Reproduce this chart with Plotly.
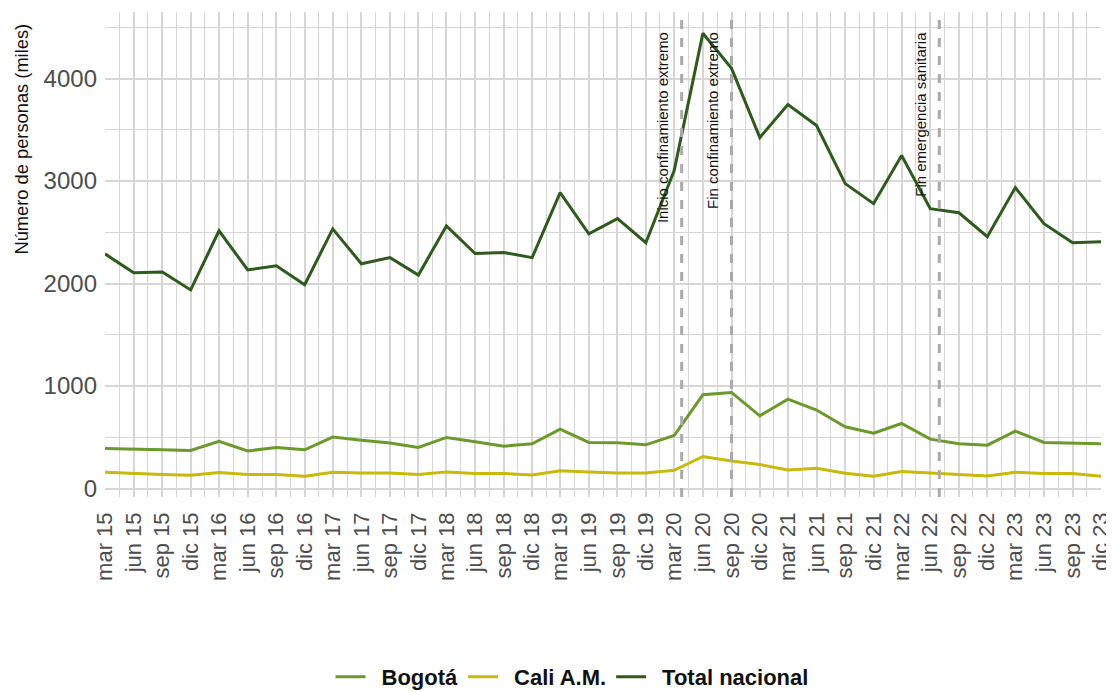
import plotly.graph_objects as go
import pandas as pd

# ---- data ----
dates = pd.date_range("2015-03-01", "2023-12-01", freq="3MS").strftime("%Y-%m-%d").tolist()
tick_labels = [f"{m} {y:02d}" for y in range(15, 24) for m in ["mar", "jun", "sep", "dic"]]

total_nacional = [2290, 2105, 2113, 1938, 2515, 2133, 2173, 1988, 2533, 2193, 2253, 2083,
                  2563, 2293, 2303, 2253, 2887, 2486, 2633, 2398, 3103, 4441, 4099, 3424,
                  3747, 3542, 2975, 2779, 3249, 2730, 2691, 2457, 2936, 2584, 2398, 2408]
bogota = [391, 389, 380, 372, 460, 368, 401, 378, 502, 472, 445, 401,
          499, 456, 414, 437, 580, 450, 446, 427, 518, 915, 938, 710,
          873, 766, 603, 541, 635, 482, 437, 424, 560, 450, 446, 437]
cali = [160, 147, 137, 130, 156, 137, 137, 121, 160, 153, 153, 137,
        163, 147, 147, 133, 173, 163, 153, 153, 178, 313, 270, 235,
        182, 199, 150, 121, 166, 153, 140, 124, 160, 147, 147, 121]

events = ["2020-03-25", "2020-09-01", "2022-06-30"]
event_labels = ["Inicio confinamiento extremo", "Fin confinamiento extremo", "Fin emergencia sanitaria"]

series = [("Bogotá", bogota, "#6B9A2C"), ("Cali A.M.", cali, "#C8B90A"), ("Total nacional", total_nacional, "#2F5A1E")]

# minor gridlines between quarters
d = pd.to_datetime(dates)
mids = [(d[i] + (d[i + 1] - d[i]) / 2).strftime("%Y-%m-%d") for i in range(len(d) - 1)]

regular = "Liberation Sans, Arial, sans-serif"

# page body has an 8px margin: size the figure so it fits the 1114x692 window
W, H = 1106, 684

fig = go.Figure()
for name, vals, color in series:
    fig.add_trace(go.Scatter(x=dates, y=vals, name="\u2002" + name, mode="lines",
                             line=dict(color=color, width=3)))

for ev, lab in zip(events, event_labels):
    fig.add_shape(type="line", xref="x", yref="paper", x0=ev, x1=ev, y0=0, y1=1,
                  line=dict(color="#AAAAAA", width=3, dash="dash"), layer="above")
    fig.add_annotation(x=ev, y=0.963, xref="x", yref="paper", text=lab, textangle=-90,
                       showarrow=False, xanchor="center", yanchor="top", xshift=-19,
                       font=dict(family=regular, size=15, color="#111111"))

# y-axis title placed near the top, as in the reference
fig.add_annotation(xref="x domain", yref="y domain", x=(21 - 105) / 996, y=1 + (12 - 22) / 485,
                   text="Número de personas (miles)", showarrow=False, textangle=-90,
                   xanchor="center", yanchor="top",
                   font=dict(family=regular, size=18.3, color="#111111"))

grid = "#D6D6D6"
fig.update_layout(
    width=W, height=H,
    margin=dict(l=97, r=13, t=4, b=195),
    plot_bgcolor="white", paper_bgcolor="white",
    showlegend=True,
    legend=dict(orientation="h", xref="container", yref="container",
                x=564 / W, xanchor="center", y=1 - 669 / H, yanchor="middle",
                font=dict(family=regular, size=22, color="#111111", weight="bold")),
    xaxis=dict(type="date", range=[dates[0], dates[-1]], tickvals=dates, ticktext=tick_labels,
               tickangle=-90, showgrid=True, gridcolor=grid, gridwidth=1.5, zeroline=False,
               showline=False, ticks="", ticklabelstandoff=10, automargin=False,
               tickfont=dict(family=regular, size=22, color="#4D4D4D"),
               minor=dict(tickvals=mids, showgrid=True, gridcolor=grid, gridwidth=1.2)),
    yaxis=dict(range=[-82, 4649], tickvals=[0, 1000, 2000, 3000, 4000], showgrid=True,
               gridcolor=grid, gridwidth=1.5, zeroline=False, showline=False, ticks="",
               ticklabelstandoff=7, automargin=False,
               tickfont=dict(family=regular, size=24, color="#4D4D4D"),
               minor=dict(dtick=500, showgrid=True, gridcolor=grid, gridwidth=1.2)),
)

fig.write_html("out.html")
